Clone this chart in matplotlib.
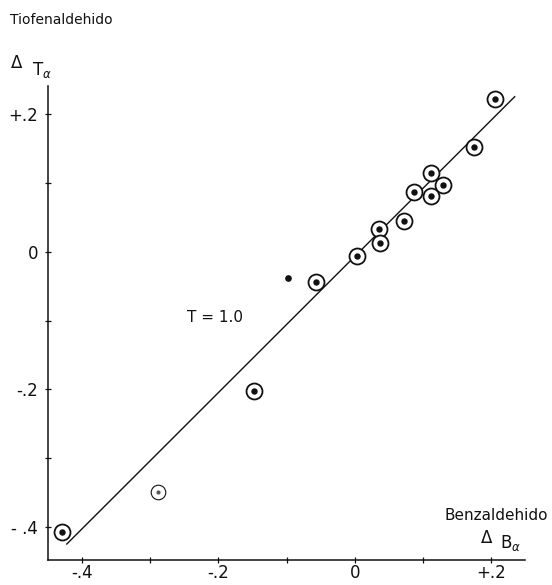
"""Gráfica de correlación Δ tiofenaldehido vs Δ benzaldehido."""

import matplotlib

matplotlib.use("Agg")

import matplotlib.pyplot as plt

C_INK = "#111111"

# puntos con círculo
X_CIRC = [-0.429, -0.148, -0.057, 0.003, 0.035, 0.037, 0.072, 0.086, 0.111, 0.111, 0.129, 0.174, 0.205]
Y_CIRC = [-0.407, -0.202, -0.044, -0.006, 0.033, 0.013, 0.044, 0.087, 0.115, 0.081, 0.097, 0.153, 0.2225]
# punto de círculo fino
X_FAINT = [-0.288]
Y_FAINT = [-0.349]
# punto sin círculo
X_DOT = [-0.098]
Y_DOT = [-0.038]
# recta T = 1.0
LINE_X = [-0.422, 0.234]
LINE_Y = [-0.425, 0.2255]

X_TICKS = [-0.4, -0.2, 0.0, 0.2]
X_TICK_LABELS = ["-.4", "-.2", "0", "+.2"]
Y_TICKS = [-0.4, -0.2, 0.0, 0.2]
Y_TICK_LABELS = ["- .4", "-.2", "0", "+.2"]
MINOR_TICKS = [-0.3, -0.1, 0.1]


def draw(out_name: str = "out.png") -> None:
    plt.rcParams["font.family"] = ["DejaVu Sans"]
    fig = plt.figure(figsize=(5.52, 5.85), dpi=100)
    ax = fig.add_axes([0.087, 0.043, 0.864, 0.81])

    ax.plot(LINE_X, LINE_Y, color=C_INK, lw=1.0)
    ax.plot(X_CIRC, Y_CIRC, "o", ms=11.5, mfc="white", mec=C_INK, mew=1.3, ls="none")
    ax.plot(X_CIRC, Y_CIRC, "o", ms=3.6, color=C_INK, ls="none")
    ax.plot(X_FAINT, Y_FAINT, "o", ms=10.5, mfc="white", mec=C_INK, mew=0.8, ls="none")
    ax.plot(X_FAINT, Y_FAINT, "o", ms=2.0, color="#555555", ls="none")
    ax.plot(X_DOT, Y_DOT, "o", ms=3.8, color=C_INK, ls="none")

    ax.set_xlim(-0.4495, 0.249)
    ax.set_ylim(-0.448, 0.241)

    for side in ("top", "right"):
        ax.spines[side].set_visible(False)
    for side in ("left", "bottom"):
        ax.spines[side].set_color(C_INK)
        ax.spines[side].set_linewidth(1.1)

    ax.set_xticks(X_TICKS + MINOR_TICKS)
    ax.set_xticklabels(X_TICK_LABELS + [""] * len(MINOR_TICKS))
    ax.set_yticks(Y_TICKS + MINOR_TICKS)
    ax.set_yticklabels(Y_TICK_LABELS + [""] * len(MINOR_TICKS))
    ax.tick_params(direction="inout", length=4, width=0.9, labelsize=12, colors=C_INK)
    ax.tick_params(axis="x", pad=1)
    ax.tick_params(axis="y", pad=5)

    ax.text(-0.246, -0.096, "T = 1.0", fontsize=11, color=C_INK, va="center")

    fig.text(0.018, 0.965, "Tiofenaldehido", fontsize=10, color=C_INK, va="center")
    fig.text(0.018, 0.893, r"$\Delta$", fontsize=12, color=C_INK, va="center")
    fig.text(0.058, 0.880, r"$\mathregular{T}_{\alpha}$", fontsize=12, color=C_INK, va="center")

    fig.text(0.993, 0.118, "Benzaldehido", fontsize=11, color=C_INK, ha="right", va="center")
    fig.text(0.87, 0.080, r"$\Delta$", fontsize=12, color=C_INK, va="center")
    fig.text(0.905, 0.072, r"$\mathregular{B}_{\alpha}$", fontsize=12, color=C_INK, va="center")

    fig.savefig(out_name, dpi=100, facecolor="white")
    plt.close(fig)


def main() -> None:
    draw()


if __name__ == "__main__":
    main()
